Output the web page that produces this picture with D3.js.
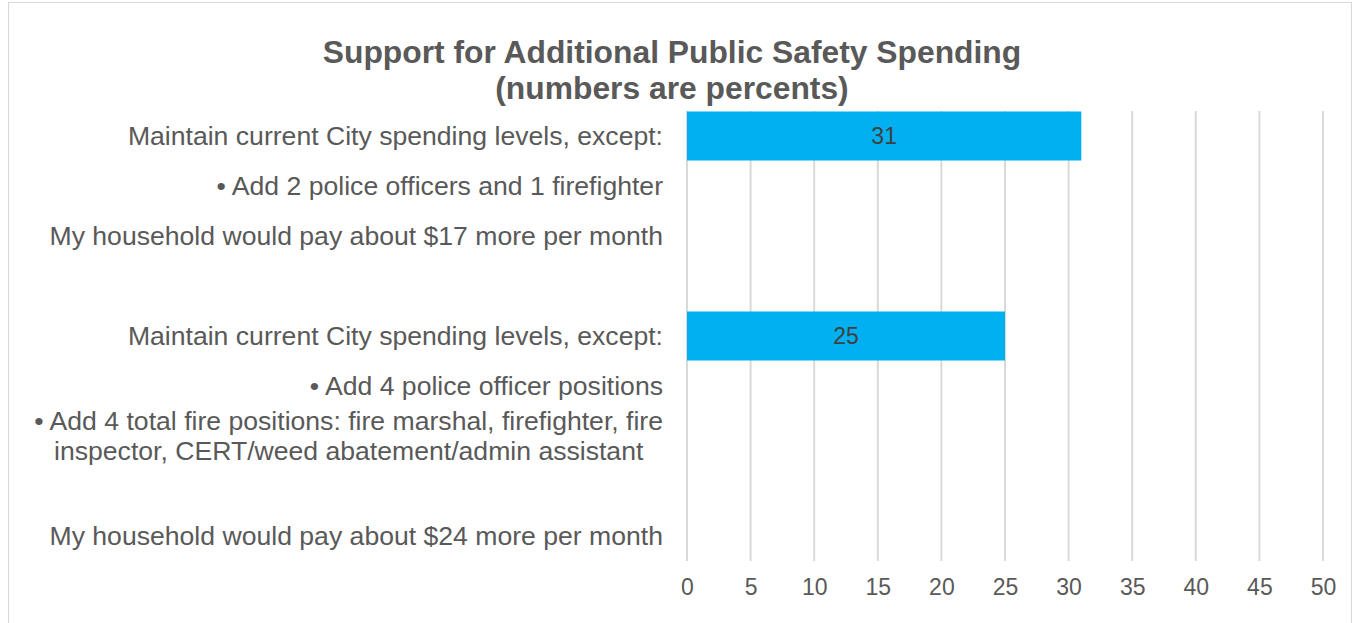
<!DOCTYPE html>
<html>
<head>
<meta charset="utf-8">
<script src="https://cdnjs.cloudflare.com/ajax/libs/d3/7.8.5/d3.min.js"></script>
<style>
  body { margin: 0; background: #fff; }
  svg text { font-family: "Liberation Sans", Arial, sans-serif; fill: #595959; }
</style>
</head>
<body>
<svg id="chart" width="1353" height="623"></svg>
<script>
// chart data
var categories = [
  ["Maintain current City spending levels, except:"],
  ["\u2022 Add 2 police officers and 1 firefighter"],
  ["My household would pay about $17 more per month"],
  [""],
  ["Maintain current City spending levels, except:"],
  ["\u2022 Add 4 police officer positions"],
  ["\u2022 Add 4 total fire positions: fire marshal, firefighter, fire", "inspector, CERT/weed abatement/admin assistant"],
  [""],
  ["My household would pay about $24 more per month"]
];
var values = [31, null, null, null, 25, null, null, null, null];
var xTicks = [0, 5, 10, 15, 20, 25, 30, 35, 40, 45, 50];
var titleLines = ["Support for Additional Public Safety Spending", "(numbers are percents)"];

var width = 1353, height = 623;
var margin = {left: 687, right: 30, top: 111, bottom: 62};

var svg = d3.select("#chart");

// outer frame
svg.append("rect")
  .attr("x", 8.5).attr("y", 2.5)
  .attr("width", 1343).attr("height", 630)
  .attr("fill", "none")
  .attr("stroke", "#d9d9d9");

var x = d3.scaleLinear().domain([0, 50]).range([margin.left, width - margin.right]);
var y = d3.scaleBand()
  .domain(d3.range(categories.length))
  .range([margin.top, height - margin.bottom])
  .paddingInner(0.02)
  .paddingOuter(0.01);

// gridlines
svg.append("g")
  .selectAll("line")
  .data(xTicks)
  .enter().append("line")
  .attr("x1", function(d){ return x(d); })
  .attr("x2", function(d){ return x(d); })
  .attr("y1", margin.top)
  .attr("y2", height - margin.bottom)
  .attr("stroke", "#d9d9d9")
  .attr("stroke-width", 2);

// bars
var barData = values.map(function(v, i){ return {i: i, v: v}; }).filter(function(d){ return d.v != null; });
svg.append("g")
  .selectAll("rect")
  .data(barData)
  .enter().append("rect")
  .attr("x", x(0))
  .attr("y", function(d){ return y(d.i); })
  .attr("width", function(d){ return x(d.v) - x(0); })
  .attr("height", y.bandwidth())
  .attr("fill", "#00b0f0");

// data labels
svg.append("g")
  .selectAll("text")
  .data(barData)
  .enter().append("text")
  .attr("x", function(d){ return (x(0) + x(d.v)) / 2; })
  .attr("y", function(d){ return y(d.i) + y.bandwidth() / 2; })
  .attr("dy", "0.36em")
  .attr("text-anchor", "middle")
  .style("font-size", "23px")
  .style("fill", "#404040")
  .text(function(d){ return d.v; });

// x axis tick labels
var xAxis = d3.axisBottom(x).tickValues(xTicks).tickSize(0).tickPadding(18);
var gx = svg.append("g")
  .attr("transform", "translate(0," + (height - margin.bottom) + ")")
  .call(xAxis);
gx.select(".domain").remove();
gx.selectAll("text")
  .style("font-size", "23px")
  .style("font-family", "'Liberation Sans', Arial, sans-serif")
  .attr("fill", "#595959");

// category labels (multi-line ones centred as a block, block right aligned)
var labelRight = margin.left - 24;
var lab = svg.append("g").selectAll("g")
  .data(categories)
  .enter().append("g")
  .attr("transform", function(d, i){ return "translate(0," + (y(i) + y.bandwidth() / 2) + ")"; });

lab.each(function(lines){
  var g = d3.select(this);
  var lineH = 30;
  var t = g.selectAll("text").data(lines).enter().append("text")
    .attr("y", function(d, k){ return (k - (lines.length - 1) / 2) * lineH; })
    .attr("dy", "0.34em")
    .style("font-size", "26.6px")
    .text(function(d){ return d; });
  var maxW = 0;
  t.each(function(){ maxW = Math.max(maxW, this.getComputedTextLength()); });
  t.attr("text-anchor", "middle").attr("x", labelRight - maxW / 2);
});

// title
svg.append("text")
  .attr("x", 672)
  .attr("y", 52)
  .attr("text-anchor", "middle")
  .style("font-size", "31.8px")
  .style("font-weight", "bold")
  .selectAll("tspan")
  .data(titleLines)
  .enter().append("tspan")
  .attr("x", 672)
  .attr("dy", function(d, i){ return i === 0 ? "0.35em" : "36px"; })
  .text(function(d){ return d; });
</script>
</body>
</html>
